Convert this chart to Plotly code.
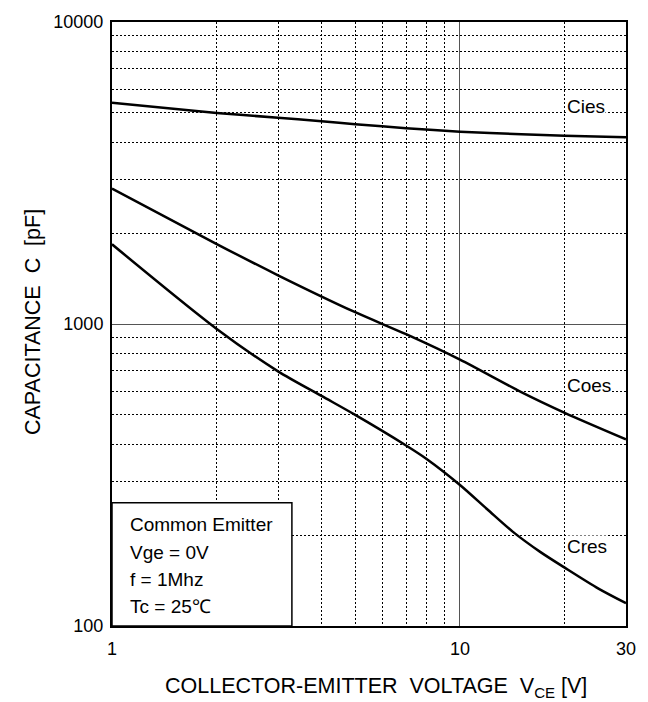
import math
import plotly.graph_objects as go

# ---- data ----
vce_cies = [1, 2, 3, 4, 5, 7, 10, 15, 20, 30]
cies = [5400, 5000, 4820, 4690, 4590, 4450, 4335, 4250, 4200, 4150]

vce_coes = [1, 2, 3, 5, 7, 10, 15, 20, 30]
coes = [2810, 1840, 1450, 1094, 925, 762, 595, 508, 415]

vce_cres = [1, 2, 3, 4, 5, 7, 8, 10, 12, 14.2, 17, 20, 25, 30]
cres = [1836, 963, 697, 578, 500, 396, 358, 293, 243, 205, 176, 156, 133, 119]

x_ticks = [1, 10, 30]
x_ticktext = ["1", "10", "30"]
y_ticks = [100, 1000, 10000]
y_ticktext = ["100", "1000", "10000"]
x_minor = [2, 3, 4, 5, 6, 7, 8, 9, 20]
y_minor = [200, 300, 400, 500, 600, 700, 800, 900,
           2000, 3000, 4000, 5000, 6000, 7000, 8000, 9000]

labels = ["Cies", "Coes", "Cres"]
label_x = [20, 20, 20]
label_y = [5240, 627, 184]

info_lines = ["Common Emitter", "Vge = 0V", "f = 1Mhz", "Tc = 25\u2103"]

FONT = "Liberation Sans, Arial, sans-serif"

fig = go.Figure()
for xs, ys, name in [(vce_cies, cies, "Cies"), (vce_coes, coes, "Coes"), (vce_cres, cres, "Cres")]:
    fig.add_trace(go.Scatter(x=xs, y=ys, mode="lines", name=name,
                             line=dict(color="black", width=2.5, shape="spline", smoothing=0.8),
                             hoverinfo="skip", showlegend=False))

grid_dash = "2px,2px"
fig.update_xaxes(type="log", range=[math.log10(1), math.log10(30)],
                 tickvals=x_ticks, ticktext=x_ticktext, ticks="",
                 ticklabelstandoff=5, ticklabeloverflow="allow",
                 showgrid=True, gridcolor="#555555", gridwidth=1,
                 minor=dict(tickvals=x_minor, showgrid=True, gridcolor="black",
                            gridwidth=1, griddash=grid_dash, ticks=""),
                 showline=True, linecolor="black", linewidth=2, mirror=True,
                 zeroline=False,
                 tickfont=dict(family=FONT, size=18, color="black"))
fig.update_yaxes(type="log", range=[2, 4],
                 tickvals=y_ticks, ticktext=y_ticktext, ticks="",
                 ticklabelstandoff=3, ticklabeloverflow="allow",
                 showgrid=True, gridcolor="#555555", gridwidth=1,
                 minor=dict(tickvals=y_minor, showgrid=True, gridcolor="black",
                            gridwidth=1, griddash=grid_dash, ticks=""),
                 showline=True, linecolor="black", linewidth=2, mirror=True,
                 zeroline=False,
                 tickfont=dict(family=FONT, size=18, color="black"))

# info box
fig.add_shape(type="rect", xref="paper", yref="paper", x0=0, x1=0.350, y0=0, y1=0.204,
              line=dict(color="black", width=1.5), fillcolor="white", layer="above")
line_px = [523, 552, 579, 606]
for txt, py in zip(info_lines, line_px):
    fig.add_annotation(text=txt, xref="paper", yref="paper",
                       x=(128 - 112) / 514, y=(626 - py) / 612,
                       xanchor="left", yanchor="middle", showarrow=False,
                       font=dict(family=FONT, size=19, color="black"))

for t, lx, ly in zip(labels, label_x, label_y):
    fig.add_annotation(text=t, x=math.log10(lx), y=math.log10(ly), xref="x", yref="y",
                       xanchor="left", yanchor="middle", xshift=1, showarrow=False,
                       bgcolor="white", borderpad=0,
                       font=dict(family=FONT, size=19, color="black"))

# axis titles
fig.add_annotation(text="COLLECTOR-EMITTER\u00a0\u00a0VOLTAGE\u00a0\u00a0V<sub>CE</sub> [V]",
                   xref="paper", yref="paper", x=(376 - 112) / 514, y=(626 - 688) / 612,
                   xanchor="center", yanchor="middle", showarrow=False,
                   font=dict(family=FONT, size=21.5, color="black"))
fig.add_annotation(text="CAPACITANCE\u00a0\u00a0C\u00a0\u00a0[pF]",
                   xref="paper", yref="paper", x=(33 - 112) / 514, y=(626 - 318) / 612,
                   xanchor="center", yanchor="middle", textangle=-90, showarrow=False,
                   font=dict(family=FONT, size=21.5, color="black"))

fig.update_layout(width=648, height=702, autosize=False,
                  margin=dict(l=112, r=22, t=14, b=76),
                  paper_bgcolor="white", plot_bgcolor="white",
                  showlegend=False)

# remove the default 8px page margin so the 648x702 figure fills the window exactly
fig.write_html("out.html", config={"displayModeBar": False},
               post_script="document.body.style.margin='0px';")
